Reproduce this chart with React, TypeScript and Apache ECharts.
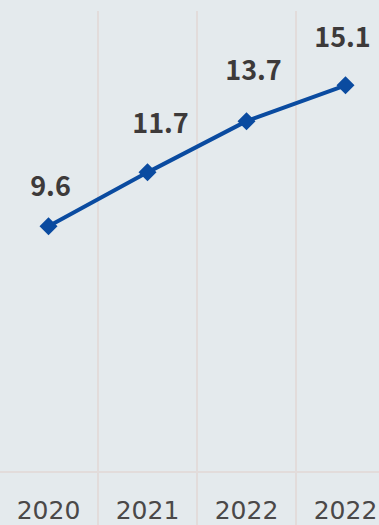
import React, { useEffect, useRef } from "react";
import * as echarts from "echarts";

const categories = ["2020", "2021", "2022", "2022"];
const values = [9.6, 11.7, 13.7, 15.1];

// label nudges (style only)
const labelOffsets: [number, number][] = [
  [2, 3],
  [13, -6],
  [7, -8],
  [-3, -5],
];

export default function App() {
  const ref = useRef<HTMLDivElement>(null);
  useEffect(() => {
    const chart = echarts.init(ref.current!, null, { renderer: "svg" });
    chart.setOption({
      animation: false,
      backgroundColor: "#e4eaed",
      textStyle: { fontFamily: "Noto Sans CJK JP" },
      grid: {
        left: -1,
        top: 11,
        width: 396,
        height: 461,
        outerBoundsMode: "none",
        containLabel: false,
      },
      xAxis: {
        type: "category",
        data: categories,
        boundaryGap: true,
        axisLine: { show: true, lineStyle: { color: "#e2dcdb", width: 2 } },
        axisTick: { show: true, length: 56, lineStyle: { color: "#e2dcdb", width: 2 } },
        axisLabel: {
          margin: 27,
          fontSize: 25,
          lineHeight: 22,
          color: "#4a4848",
          fontFamily: "DejaVu Sans",
        },
        splitLine: { show: true, lineStyle: { color: "#e2dcdb", width: 2 } },
      },
      yAxis: {
        type: "value",
        min: 0,
        max: 18,
        show: false,
        splitLine: { show: false },
      },
      series: [
        {
          type: "line",
          data: values.map((v, i) => ({
            value: v,
            label: { offset: labelOffsets[i] },
          })),
          symbol: "diamond",
          symbolSize: 18,
          lineStyle: { color: "#0a4ba0", width: 4 },
          itemStyle: { color: "#0a4ba0" },
          label: {
            show: true,
            position: "top",
            distance: 22,
            fontSize: 27,
            fontWeight: "bold",
            color: "#3d3a3a",
            fontFamily: "Noto Sans CJK JP",
          },
        },
      ],
    });
    return () => chart.dispose();
  }, []);
  return (
    <div
      ref={ref}
      style={{ position: "fixed", left: 0, top: 0, width: 379, height: 525 }}
    />
  );
}
